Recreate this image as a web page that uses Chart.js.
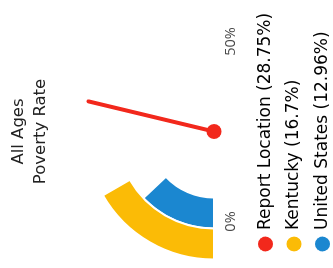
<!DOCTYPE html>
<html>
<head>
<meta charset="utf-8">
<script src="https://cdn.jsdelivr.net/npm/chart.js@4.4.1/dist/chart.umd.min.js"></script>
<style>
  html, body { margin: 0; padding: 0; background: #fff; overflow: hidden; }
  /* the chart is drawn upright, then turned a quarter left like the picture */
  #wrap {
    position: absolute; left: 0; top: 0; width: 268px; height: 333px;
    transform-origin: 0 0; transform: translateY(268px) rotate(-90deg);
  }
</style>
</head>
<body>
<div id="wrap"><canvas id="gauge" width="268" height="333"></canvas></div>
<script>
// gauge data
const gaugeMax = 50;
const tickLabels = ['0%', '50%'];
const locationNames = ['Report Location', 'Kentucky', 'United States'];
const povertyRates = [28.75, 16.7, 12.96];
const locationColors = ['#f2281c', '#fbbb06', '#1b87d0'];

// Function to draw the needle and the 0% / 50% labels
const gaugeExtras = {
    id: 'gaugeExtras',
    afterDatasetsDraw(chart) {
        const ctx = chart.ctx;
        const arc = chart.getDatasetMeta(0).data[0];
        const cx = arc.x, cy = arc.y;
        const angle = arc.startAngle + (povertyRates[0] / gaugeMax) * Math.PI;
        const len = arc.outerRadius + 1;

        ctx.save();
        ctx.strokeStyle = locationColors[0];
        ctx.fillStyle = locationColors[0];
        ctx.lineWidth = 4;
        ctx.lineCap = 'round';
        ctx.beginPath();
        ctx.moveTo(cx, cy);
        ctx.lineTo(cx + Math.cos(angle) * len, cy + Math.sin(angle) * len);
        ctx.stroke();
        ctx.beginPath();
        ctx.arc(cx, cy, 7.5, 0, Math.PI * 2);
        ctx.fill();

        ctx.fillStyle = '#4a4a4a';
        ctx.font = '14.5px "Open Sans"';
        ctx.textAlign = 'center';
        ctx.textBaseline = 'top';
        ctx.fillText(tickLabels[0], cx - 90, cy + 10);
        ctx.fillText(tickLabels[1], cx + 90, cy + 10);
        ctx.restore();
    }
};

const ctxGauge = document.getElementById('gauge').getContext('2d');

const gaugeChart = new Chart(ctxGauge, {
    type: 'doughnut',
    data: {
        labels: ['value', 'rest'],
        datasets: [
            {
                label: locationNames[1],
                data: [povertyRates[1], gaugeMax - povertyRates[1]],
                backgroundColor: [locationColors[1], 'rgba(0,0,0,0)'],
                borderColor: '#fff',
                borderWidth: [2, 0],
            },
            {
                label: locationNames[2],
                data: [povertyRates[2], gaugeMax - povertyRates[2]],
                backgroundColor: [locationColors[2], 'rgba(0,0,0,0)'],
                borderColor: '#fff',
                borderWidth: [2, 0],
            }
        ]
    },
    options: {
        responsive: false,
        animation: false,
        rotation: -90,
        circumference: 180,
        radius: 128,
        cutout: '51.6%',
        layout: {
            padding: { left: 7, right: 2 }
        },
        plugins: {
            title: {
                display: true,
                text: ['All Ages', 'Poverty Rate'],
                color: '#222',
                font: { family: '"DejaVu Sans"', size: 16.5, weight: 'normal', lineHeight: 1.33 },
                padding: { top: 8, bottom: 2.5 }
            },
            legend: {
                display: true,
                position: 'bottom',
                align: 'start',
                maxHeight: 87.5,
                labels: {
                    usePointStyle: true,
                    pointStyle: 'circle',
                    boxWidth: 11,
                    boxHeight: 10.5,
                    padding: 11.5,
                    color: '#222',
                    font: { family: '"DejaVu Sans"', size: 17 },
                    generateLabels: function () {
                        return locationNames.map((name, i) => ({
                            text: `${name} (${povertyRates[i]}%)`,
                            fillStyle: locationColors[i],
                            strokeStyle: locationColors[i],
                            lineWidth: 0,
                            pointStyle: 'circle',
                            hidden: false,
                            index: i
                        }));
                    }
                }
            },
            tooltip: { enabled: false }
        }
    },
    plugins: [gaugeExtras]
});
</script>
</body>
</html>
